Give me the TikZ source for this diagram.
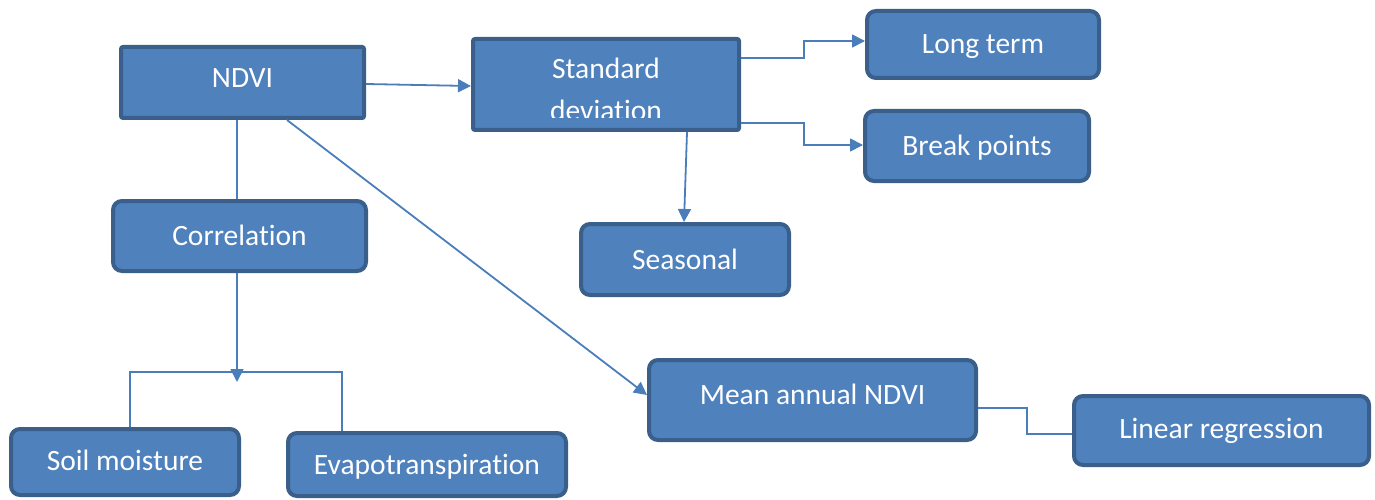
\documentclass[tikz,border=0pt]{standalone}
\usepackage{fontspec}
\setmainfont{Carlito}[Ligatures=NoCommon]
\usetikzlibrary{arrows.meta,calc}
\definecolor{boxfill}{HTML}{4F81BD}
\definecolor{boxline}{HTML}{3A5F8B}
\definecolor{wire}{HTML}{4A7EBB}
\newcommand\boxfont{\fontsize{29.5}{38}\selectfont}
\tikzset{
  box/.style={draw=boxline, fill=boxfill, line width=4pt, rounded corners=9pt,
              text=white, font=\boxfont, inner sep=0pt,
              text height=25pt, text depth=6pt},
  sqbox/.style={box, rounded corners=2pt},
  link/.style={draw=wire, line width=1.8pt},
  arr/.style={link, -{Triangle[length=13pt,width=13pt]}},
  lbl/.style={text=white, font=\boxfont, inner sep=0pt},
}
\begin{document}
\begin{tikzpicture}[x=1pt,y=-1pt]
\useasboundingbox (0,0) rectangle (1375,500);

% boxes
\node[sqbox, minimum width=243pt, minimum height=71pt] (ndvi) at (242.5,82.5) {\raisebox{4.7pt}{NDVI}};
\node[sqbox, minimum width=266pt, minimum height=91pt] (sd) at (606,84.5) {};
\begin{scope}
  \clip (475,41) rectangle (737,118);
  \node[lbl, anchor=base] (sdtop) at (606,79) {Standard};
  \node[lbl, anchor=base] (sdbot) at (606,121) {deviation};
\end{scope}
\node[box, minimum width=232pt, minimum height=67pt] (long) at (983,44.5) {Long term};
\node[box, minimum width=224pt, minimum height=70pt] (brk) at (977,146) {Break points};
\node[box, minimum width=208pt, minimum height=71pt] (seas) at (685,259.5) {Seasonal};
\node[box, minimum width=253pt, minimum height=70pt] (corr) at (239.5,236) {\raisebox{0.5pt}{Correlation}};
\node[box, minimum width=228pt, minimum height=66pt] (soil) at (125,462) {\raisebox{1pt}{Soil moisture}};
\node[box, minimum width=278pt, minimum height=63pt] (evap) at (427,464.5) {\raisebox{-0.5pt}{Evapotranspiration}};
\node[box, minimum width=327pt, minimum height=80pt] (mean) at (812.5,400) {\raisebox{5.3pt}{Mean annual NDVI}};
\node[box, minimum width=295pt, minimum height=69pt] (lin) at (1221.5,430.5) {\raisebox{1.5pt}{Linear regression}};

% connectors
\draw[arr] ([yshift=-1.5pt]ndvi.east) -- ([yshift=-1.5pt]sd.west);
\draw[arr] ([yshift=26.5pt]sd.east) -- ++(63,0) |- ([yshift=3.5pt]long.west);
\draw[arr] ([yshift=-38.5pt]sd.east) -- ++(63,0) |- ([yshift=1pt]brk.west);
\draw[arr] ([xshift=81pt]sd.south) -- ([xshift=-1pt]seas.north);
\draw[link] ([xshift=-5.5pt]ndvi.south) -- ([xshift=-5.5pt]ndvi.south |- corr.north);
\draw[arr] ([xshift=44.5pt]ndvi.south) -- ([yshift=5pt]mean.west);

\coordinate (split) at (237,372);
\draw[arr] ([xshift=-2.5pt]corr.south) -- ([yshift=-10pt]split);
\draw[link] ([xshift=5pt]soil.north) -- ([xshift=5pt]soil.north |- split)
  -- ([xshift=-85pt]evap.north |- split) -- ([xshift=-85pt]evap.north);

\draw[link] ([yshift=-8pt]mean.east) -- ++(49,0) |- ([yshift=-3.5pt]lin.west);
\end{tikzpicture}
\end{document}
